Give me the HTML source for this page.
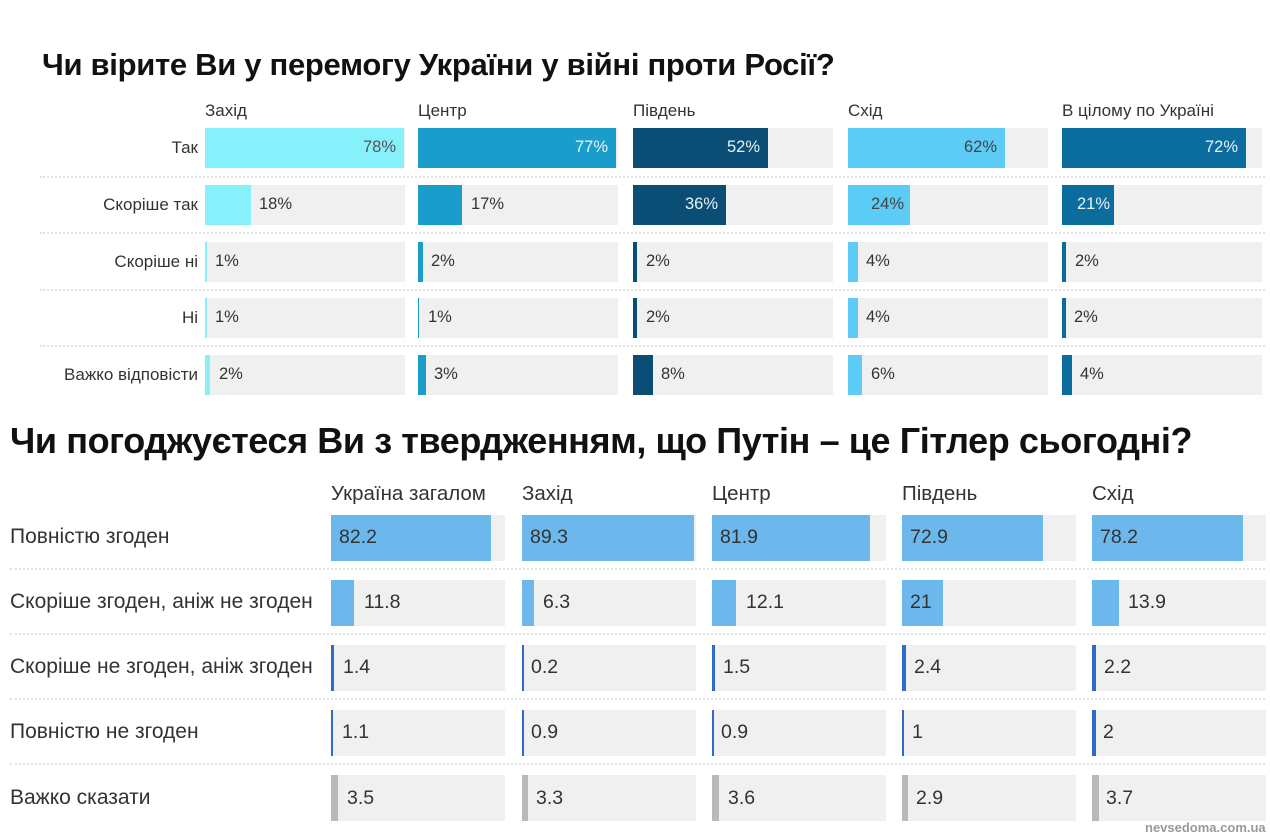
<!DOCTYPE html>
<html><head><meta charset="utf-8"><style>
body{margin:0;width:1270px;height:839px;background:#fff;position:relative;overflow:hidden;font-family:"Liberation Sans",sans-serif;color:#333}
div,span{position:absolute}
.t{background:#f0f0f0}
.s{height:0;border-top:2px dotted #e2e2e2}
.h1{font-size:17px;top:101px;color:#333;white-space:nowrap}
.l1{font-size:17px;right:1072px;text-align:right;width:200px;color:#333;white-space:nowrap}
.v1{font-size:16.5px;color:#333}
.h2{font-size:20.5px;top:482px;color:#333;white-space:nowrap}
.l2{font-size:21px;left:10px;color:#333;white-space:nowrap}
.v2{font-size:19.5px;color:#333}
</style></head><body>
<div style="left:42px;top:47px;font-size:31px;font-weight:bold;color:#111;letter-spacing:-0.3px;white-space:nowrap">Чи вірите Ви у перемогу України у війні проти Росії?</div>
<div class="h1" style="left:205px">Захід</div>
<div class="h1" style="left:418px">Центр</div>
<div class="h1" style="left:633px">Південь</div>
<div class="h1" style="left:848px">Схід</div>
<div class="h1" style="left:1062px">В цілому по Україні</div>
<div class="l1" style="top:138px">Так</div>
<div class="l1" style="top:195px">Скоріше так</div>
<div class="l1" style="top:252px">Скоріше ні</div>
<div class="l1" style="top:308px">Ні</div>
<div class="l1" style="top:365px">Важко відповісти</div>
<div class="s" style="left:40px;width:1225px;top:176px"></div>
<div class="s" style="left:40px;width:1225px;top:232px"></div>
<div class="s" style="left:40px;width:1225px;top:289px"></div>
<div class="s" style="left:40px;width:1225px;top:345px"></div>
<!-- tracks top -->
<div class="t" style="left:205px;top:128px;width:200px;height:40px"></div><div class="t" style="left:418px;top:128px;width:200px;height:40px"></div><div class="t" style="left:633px;top:128px;width:200px;height:40px"></div><div class="t" style="left:848px;top:128px;width:200px;height:40px"></div><div class="t" style="left:1062px;top:128px;width:200px;height:40px"></div>
<div class="t" style="left:205px;top:185px;width:200px;height:40px"></div><div class="t" style="left:418px;top:185px;width:200px;height:40px"></div><div class="t" style="left:633px;top:185px;width:200px;height:40px"></div><div class="t" style="left:848px;top:185px;width:200px;height:40px"></div><div class="t" style="left:1062px;top:185px;width:200px;height:40px"></div>
<div class="t" style="left:205px;top:242px;width:200px;height:40px"></div><div class="t" style="left:418px;top:242px;width:200px;height:40px"></div><div class="t" style="left:633px;top:242px;width:200px;height:40px"></div><div class="t" style="left:848px;top:242px;width:200px;height:40px"></div><div class="t" style="left:1062px;top:242px;width:200px;height:40px"></div>
<div class="t" style="left:205px;top:298px;width:200px;height:40px"></div><div class="t" style="left:418px;top:298px;width:200px;height:40px"></div><div class="t" style="left:633px;top:298px;width:200px;height:40px"></div><div class="t" style="left:848px;top:298px;width:200px;height:40px"></div><div class="t" style="left:1062px;top:298px;width:200px;height:40px"></div>
<div class="t" style="left:205px;top:355px;width:200px;height:40px"></div><div class="t" style="left:418px;top:355px;width:200px;height:40px"></div><div class="t" style="left:633px;top:355px;width:200px;height:40px"></div><div class="t" style="left:848px;top:355px;width:200px;height:40px"></div><div class="t" style="left:1062px;top:355px;width:200px;height:40px"></div>
<!-- Захід -->
<div style="left:205px;top:128px;width:199px;height:40px;background:#86f0fb"></div><div class="v1" style="left:205px;width:191px;text-align:right;top:138px;color:#555">78%</div>
<div style="left:205px;top:185px;width:46px;height:40px;background:#86f0fb"></div><div class="v1" style="left:259px;top:195px">18%</div>
<div style="left:205px;top:242px;width:2px;height:40px;background:#86f0fb"></div><div class="v1" style="left:215px;top:252px">1%</div>
<div style="left:205px;top:298px;width:2px;height:40px;background:#86f0fb"></div><div class="v1" style="left:215px;top:308px">1%</div>
<div style="left:205px;top:355px;width:5px;height:40px;background:#86f0fb"></div><div class="v1" style="left:219px;top:365px">2%</div>
<!-- Центр -->
<div style="left:418px;top:128px;width:198px;height:40px;background:#1b9dcc"></div><div class="v1" style="left:418px;width:190px;text-align:right;top:138px;color:#e8f4fa">77%</div>
<div style="left:418px;top:185px;width:44px;height:40px;background:#1b9dcc"></div><div class="v1" style="left:471px;top:195px">17%</div>
<div style="left:418px;top:242px;width:5px;height:40px;background:#1b9dcc"></div><div class="v1" style="left:431px;top:252px">2%</div>
<div style="left:418px;top:298px;width:1px;height:40px;background:#1b9dcc"></div><div class="v1" style="left:428px;top:308px">1%</div>
<div style="left:418px;top:355px;width:8px;height:40px;background:#1b9dcc"></div><div class="v1" style="left:434px;top:365px">3%</div>
<!-- Південь -->
<div style="left:633px;top:128px;width:135px;height:40px;background:#0a4e76"></div><div class="v1" style="left:633px;width:127px;text-align:right;top:138px;color:#e8f0f5">52%</div>
<div style="left:633px;top:185px;width:93px;height:40px;background:#0a4e76"></div><div class="v1" style="left:633px;width:85px;text-align:right;top:195px;color:#e8f0f5">36%</div>
<div style="left:633px;top:242px;width:4px;height:40px;background:#0a4e76"></div><div class="v1" style="left:646px;top:252px">2%</div>
<div style="left:633px;top:298px;width:4px;height:40px;background:#0a4e76"></div><div class="v1" style="left:646px;top:308px">2%</div>
<div style="left:633px;top:355px;width:20px;height:40px;background:#0a4e76"></div><div class="v1" style="left:661px;top:365px">8%</div>
<!-- Схід -->
<div style="left:848px;top:128px;width:157px;height:40px;background:#5ccbf5"></div><div class="v1" style="left:848px;width:149px;text-align:right;top:138px;color:#444">62%</div>
<div style="left:848px;top:185px;width:62px;height:40px;background:#5ccbf5"></div><div class="v1" style="left:848px;width:56px;text-align:right;top:195px;color:#444">24%</div>
<div style="left:848px;top:242px;width:10px;height:40px;background:#5ccbf5"></div><div class="v1" style="left:866px;top:252px">4%</div>
<div style="left:848px;top:298px;width:10px;height:40px;background:#5ccbf5"></div><div class="v1" style="left:866px;top:308px">4%</div>
<div style="left:848px;top:355px;width:14px;height:40px;background:#5ccbf5"></div><div class="v1" style="left:871px;top:365px">6%</div>
<!-- Україна -->
<div style="left:1062px;top:128px;width:184px;height:40px;background:#0b6c9e"></div><div class="v1" style="left:1062px;width:176px;text-align:right;top:138px;color:#e8f2f8">72%</div>
<div style="left:1062px;top:185px;width:52px;height:40px;background:#0b6c9e"></div><div class="v1" style="left:1062px;width:48px;text-align:right;top:195px;color:#e8f2f8">21%</div>
<div style="left:1062px;top:242px;width:4px;height:40px;background:#0b6c9e"></div><div class="v1" style="left:1075px;top:252px">2%</div>
<div style="left:1062px;top:298px;width:4px;height:40px;background:#0b6c9e"></div><div class="v1" style="left:1074px;top:308px">2%</div>
<div style="left:1062px;top:355px;width:10px;height:40px;background:#0b6c9e"></div><div class="v1" style="left:1080px;top:365px">4%</div>

<div style="left:10px;top:420px;font-size:36px;font-weight:bold;color:#111;letter-spacing:-0.4px;white-space:nowrap">Чи погоджуєтеся Ви з твердженням, що Путін – це Гітлер сьогодні?</div>
<div class="h2" style="left:331px">Україна загалом</div>
<div class="h2" style="left:522px">Захід</div>
<div class="h2" style="left:712px">Центр</div>
<div class="h2" style="left:902px">Південь</div>
<div class="h2" style="left:1092px">Схід</div>
<div class="l2" style="top:525px">Повністю згоден</div>
<div class="l2" style="top:590px">Скоріше згоден, аніж не згоден</div>
<div class="l2" style="top:655px">Скоріше не згоден, аніж згоден</div>
<div class="l2" style="top:720px">Повністю не згоден</div>
<div class="l2" style="top:786px">Важко сказати</div>
<div class="s" style="left:10px;width:1255px;top:568px"></div>
<div class="s" style="left:10px;width:1255px;top:633px"></div>
<div class="s" style="left:10px;width:1255px;top:698px"></div>
<div class="s" style="left:10px;width:1255px;top:763px"></div>
<!-- tracks bottom -->
<div class="t" style="left:331px;top:515px;width:174px;height:46px"></div><div class="t" style="left:522px;top:515px;width:174px;height:46px"></div><div class="t" style="left:712px;top:515px;width:174px;height:46px"></div><div class="t" style="left:902px;top:515px;width:174px;height:46px"></div><div class="t" style="left:1092px;top:515px;width:174px;height:46px"></div>
<div class="t" style="left:331px;top:580px;width:174px;height:46px"></div><div class="t" style="left:522px;top:580px;width:174px;height:46px"></div><div class="t" style="left:712px;top:580px;width:174px;height:46px"></div><div class="t" style="left:902px;top:580px;width:174px;height:46px"></div><div class="t" style="left:1092px;top:580px;width:174px;height:46px"></div>
<div class="t" style="left:331px;top:645px;width:174px;height:46px"></div><div class="t" style="left:522px;top:645px;width:174px;height:46px"></div><div class="t" style="left:712px;top:645px;width:174px;height:46px"></div><div class="t" style="left:902px;top:645px;width:174px;height:46px"></div><div class="t" style="left:1092px;top:645px;width:174px;height:46px"></div>
<div class="t" style="left:331px;top:710px;width:174px;height:46px"></div><div class="t" style="left:522px;top:710px;width:174px;height:46px"></div><div class="t" style="left:712px;top:710px;width:174px;height:46px"></div><div class="t" style="left:902px;top:710px;width:174px;height:46px"></div><div class="t" style="left:1092px;top:710px;width:174px;height:46px"></div>
<div class="t" style="left:331px;top:775px;width:174px;height:46px"></div><div class="t" style="left:522px;top:775px;width:174px;height:46px"></div><div class="t" style="left:712px;top:775px;width:174px;height:46px"></div><div class="t" style="left:902px;top:775px;width:174px;height:46px"></div><div class="t" style="left:1092px;top:775px;width:174px;height:46px"></div>
<!-- row1 -->
<div style="left:331px;top:515px;width:160px;height:46px;background:#6cb8ec"></div><div class="v2" style="left:339px;top:526px">82.2</div>
<div style="left:522px;top:515px;width:172px;height:46px;background:#6cb8ec"></div><div class="v2" style="left:530px;top:526px">89.3</div>
<div style="left:712px;top:515px;width:158px;height:46px;background:#6cb8ec"></div><div class="v2" style="left:720px;top:526px">81.9</div>
<div style="left:902px;top:515px;width:141px;height:46px;background:#6cb8ec"></div><div class="v2" style="left:910px;top:526px">72.9</div>
<div style="left:1092px;top:515px;width:151px;height:46px;background:#6cb8ec"></div><div class="v2" style="left:1100px;top:526px">78.2</div>
<!-- row2 -->
<div style="left:331px;top:580px;width:23px;height:46px;background:#6cb8ec"></div><div class="v2" style="left:364px;top:591px">11.8</div>
<div style="left:522px;top:580px;width:12px;height:46px;background:#6cb8ec"></div><div class="v2" style="left:543px;top:591px">6.3</div>
<div style="left:712px;top:580px;width:24px;height:46px;background:#6cb8ec"></div><div class="v2" style="left:746px;top:591px">12.1</div>
<div style="left:902px;top:580px;width:41px;height:46px;background:#6cb8ec"></div><div class="v2" style="left:910px;top:591px">21</div>
<div style="left:1092px;top:580px;width:27px;height:46px;background:#6cb8ec"></div><div class="v2" style="left:1128px;top:591px">13.9</div>
<!-- row3 -->
<div style="left:331px;top:645px;width:3px;height:46px;background:#2f6cc9"></div><div class="v2" style="left:343px;top:656px">1.4</div>
<div style="left:522px;top:645px;width:2px;height:46px;background:#2f6cc9"></div><div class="v2" style="left:531px;top:656px">0.2</div>
<div style="left:712px;top:645px;width:3px;height:46px;background:#2f6cc9"></div><div class="v2" style="left:723px;top:656px">1.5</div>
<div style="left:902px;top:645px;width:4px;height:46px;background:#2f6cc9"></div><div class="v2" style="left:914px;top:656px">2.4</div>
<div style="left:1092px;top:645px;width:4px;height:46px;background:#2f6cc9"></div><div class="v2" style="left:1104px;top:656px">2.2</div>
<!-- row4 -->
<div style="left:331px;top:710px;width:2px;height:46px;background:#2f6cc9"></div><div class="v2" style="left:342px;top:721px">1.1</div>
<div style="left:522px;top:710px;width:2px;height:46px;background:#2f6cc9"></div><div class="v2" style="left:531px;top:721px">0.9</div>
<div style="left:712px;top:710px;width:2px;height:46px;background:#2f6cc9"></div><div class="v2" style="left:721px;top:721px">0.9</div>
<div style="left:902px;top:710px;width:2px;height:46px;background:#2f6cc9"></div><div class="v2" style="left:912px;top:721px">1</div>
<div style="left:1092px;top:710px;width:4px;height:46px;background:#2f6cc9"></div><div class="v2" style="left:1103px;top:721px">2</div>
<!-- row5 -->
<div style="left:331px;top:775px;width:7px;height:46px;background:#b9b9b9"></div><div class="v2" style="left:347px;top:787px">3.5</div>
<div style="left:522px;top:775px;width:6px;height:46px;background:#b9b9b9"></div><div class="v2" style="left:536px;top:787px">3.3</div>
<div style="left:712px;top:775px;width:7px;height:46px;background:#b9b9b9"></div><div class="v2" style="left:728px;top:787px">3.6</div>
<div style="left:902px;top:775px;width:6px;height:46px;background:#b9b9b9"></div><div class="v2" style="left:916px;top:787px">2.9</div>
<div style="left:1092px;top:775px;width:7px;height:46px;background:#b9b9b9"></div><div class="v2" style="left:1106px;top:787px">3.7</div>
<div style="left:1145px;top:820px;font-size:13px;color:#999;font-weight:bold">nevsedoma.com.ua</div>
</body></html>
